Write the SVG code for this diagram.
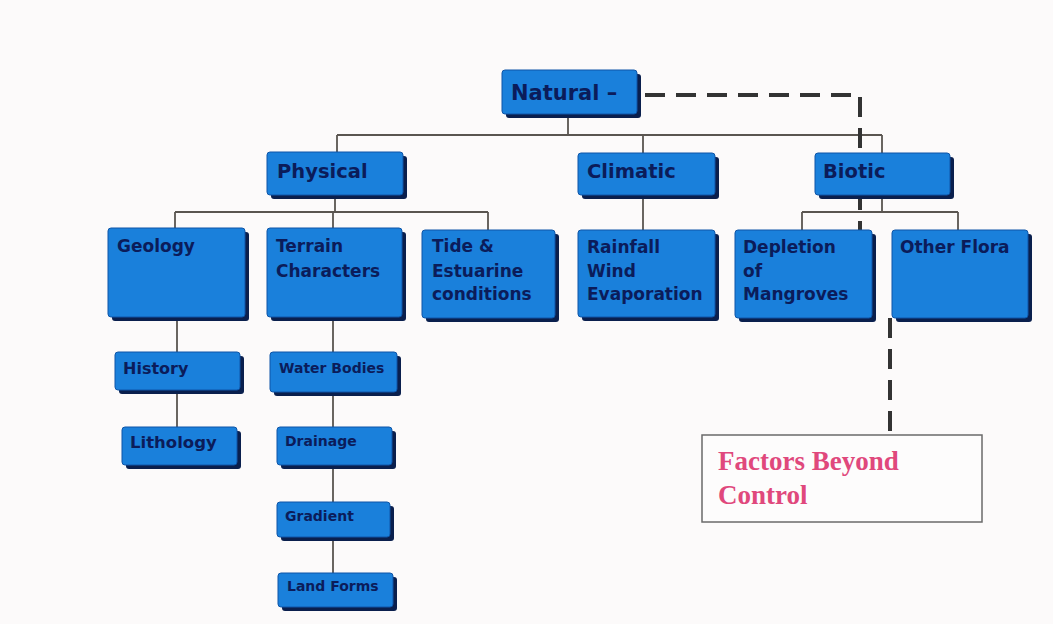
<svg xmlns="http://www.w3.org/2000/svg" width="1053" height="624" viewBox="0 0 1053 624">
<style>
.bx{fill:#1a80db;stroke:#0e55a8;stroke-width:1}
.sh{fill:#0a1f4d}
.t{font-family:"DejaVu Sans",sans-serif;font-weight:bold;fill:#0b1c5a}
.c{fill:none;stroke:#5a5550;stroke-width:1.8}
.d{fill:none;stroke:#333;stroke-width:4;stroke-dasharray:20 11}
.ft{font-family:"Liberation Serif",serif;font-weight:bold;font-size:27px;fill:#e0487c}
</style>
<rect width="1053" height="624" fill="#fcfafa"/>
<g id="connectors">
<path class="c" d="M568,113 V135 M337,135 H882 M337,135 V152 M643,135 V153 M882,135 V153"/>
<path class="c" d="M335,195 V212 M175,212 H488 M175,212 V228 M333,212 V228 M488,212 V230"/>
<path class="c" d="M643,195 V230"/>
<path class="c" d="M882,195 V212 M802,212 H958 M802,212 V230 M958,212 V230"/>
<path class="c" d="M177,317 V352 M177,390 V427"/>
<path class="c" d="M333,317 V352 M333,392 V427 M333,465 V502 M333,537 V573"/>
<path class="d" d="M645,95 H860 V236"/>
<path class="d" d="M890,318 V435"/>
</g>
<g id="natural"><rect class="sh" x="506" y="74" width="135" height="44" rx="3"/><rect class="bx" x="502" y="70" width="135" height="44" rx="3"/><text class="t" x="511" y="100" font-size="21">Natural –</text></g>
<g id="physical"><rect class="sh" x="271" y="156" width="136" height="43" rx="3"/><rect class="bx" x="267" y="152" width="136" height="43" rx="3"/><text class="t" x="277" y="178" font-size="19.5">Physical</text></g>
<g id="climatic"><rect class="sh" x="582" y="157" width="137" height="42" rx="3"/><rect class="bx" x="578" y="153" width="137" height="42" rx="3"/><text class="t" x="587" y="178" font-size="19.5">Climatic</text></g>
<g id="biotic"><rect class="sh" x="819" y="157" width="135" height="42" rx="3"/><rect class="bx" x="815" y="153" width="135" height="42" rx="3"/><text class="t" x="823" y="178" font-size="19.5">Biotic</text></g>
<g id="geology"><rect class="sh" x="112" y="232" width="137" height="89" rx="3"/><rect class="bx" x="108" y="228" width="137" height="89" rx="3"/><text class="t" x="117" y="252" font-size="17">Geology</text></g>
<g id="terrain"><rect class="sh" x="271" y="232" width="135" height="89" rx="3"/><rect class="bx" x="267" y="228" width="135" height="89" rx="3"/><text class="t" x="276" y="252" font-size="17">Terrain</text><text class="t" x="276" y="277" font-size="17">Characters</text></g>
<g id="tide"><rect class="sh" x="426" y="234" width="133" height="88" rx="3"/><rect class="bx" x="422" y="230" width="133" height="88" rx="3"/><text class="t" x="432" y="252" font-size="17">Tide &amp;</text><text class="t" x="432" y="277" font-size="17">Estuarine</text><text class="t" x="432" y="300" font-size="17">conditions</text></g>
<g id="rainfall"><rect class="sh" x="582" y="234" width="137" height="87" rx="3"/><rect class="bx" x="578" y="230" width="137" height="87" rx="3"/><text class="t" x="587" y="253" font-size="17">Rainfall</text><text class="t" x="587" y="277" font-size="17">Wind</text><text class="t" x="587" y="300" font-size="17">Evaporation</text></g>
<g id="depletion"><rect class="sh" x="739" y="234" width="137" height="88" rx="3"/><rect class="bx" x="735" y="230" width="137" height="88" rx="3"/><text class="t" x="743" y="253" font-size="17">Depletion</text><text class="t" x="743" y="277" font-size="17">of</text><text class="t" x="743" y="300" font-size="17">Mangroves</text></g>
<g id="otherflora"><rect class="sh" x="896" y="234" width="136" height="88" rx="3"/><rect class="bx" x="892" y="230" width="136" height="88" rx="3"/><text class="t" x="900" y="253" font-size="17">Other Flora</text></g>
<g id="history"><rect class="sh" x="119" y="356" width="125" height="38" rx="3"/><rect class="bx" x="115" y="352" width="125" height="38" rx="3"/><text class="t" x="123" y="374" font-size="16">History</text></g>
<g id="lithology"><rect class="sh" x="126" y="431" width="115" height="38" rx="3"/><rect class="bx" x="122" y="427" width="115" height="38" rx="3"/><text class="t" x="130" y="448" font-size="16.5">Lithology</text></g>
<g id="waterbodies"><rect class="sh" x="274" y="356" width="127" height="40" rx="3"/><rect class="bx" x="270" y="352" width="127" height="40" rx="3"/><text class="t" x="279" y="373" font-size="14">Water Bodies</text></g>
<g id="drainage"><rect class="sh" x="281" y="431" width="115" height="38" rx="3"/><rect class="bx" x="277" y="427" width="115" height="38" rx="3"/><text class="t" x="285" y="446" font-size="14">Drainage</text></g>
<g id="gradient"><rect class="sh" x="281" y="506" width="113" height="35" rx="3"/><rect class="bx" x="277" y="502" width="113" height="35" rx="3"/><text class="t" x="285" y="521" font-size="14">Gradient</text></g>
<g id="landforms"><rect class="sh" x="282" y="577" width="115" height="34" rx="3"/><rect class="bx" x="278" y="573" width="115" height="34" rx="3"/><text class="t" x="287" y="591" font-size="14">Land Forms</text></g>
<g id="factors"><rect x="702" y="435" width="280" height="87" fill="#fdfcfc" stroke="#6a6a6a" stroke-width="1.5"/><text class="ft" x="718" y="470">Factors Beyond</text><text class="ft" x="718" y="504">Control</text></g>
</svg>
